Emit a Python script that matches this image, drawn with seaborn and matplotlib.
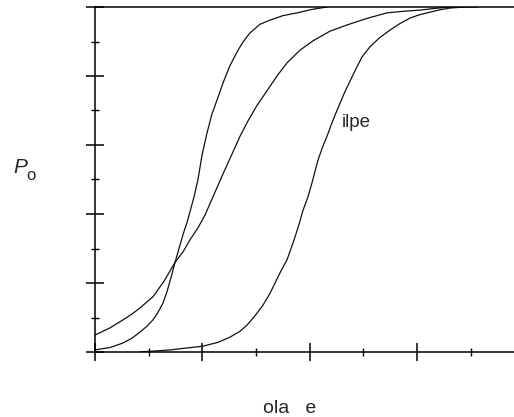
import numpy as np
import pandas as pd
import matplotlib
matplotlib.use("Agg")
import matplotlib.pyplot as plt
import seaborn as sns
from matplotlib.ticker import MultipleLocator

# Curve A (steep, left)
xa = [0, 0.14, 0.26, 0.345, 0.42, 0.485, 0.54, 0.587, 0.634, 0.671, 0.708, 0.746, 0.783, 0.82, 0.857,
      0.885, 0.923, 0.96, 0.997, 1.044, 1.09, 1.137, 1.193, 1.258, 1.333, 1.389, 1.445, 1.538, 1.631,
      1.752, 1.883, 2.022, 2.162]
ya = [0.006, 0.013, 0.026, 0.040, 0.058, 0.075, 0.093, 0.115, 0.142, 0.175, 0.215, 0.26, 0.30, 0.34, 0.375,
      0.406, 0.45, 0.50, 0.57, 0.635, 0.69, 0.73, 0.78, 0.83, 0.875, 0.903, 0.925, 0.950, 0.962,
      0.975, 0.983, 0.993, 1.0]
# Curve B (shallow, middle)
xb = [0, 0.14, 0.26, 0.345, 0.42, 0.54, 0.643, 0.746, 0.82, 0.885, 0.96, 1.025, 1.10, 1.184, 1.286, 1.351,
      1.426, 1.51, 1.603, 1.696, 1.789, 1.911, 2.032, 2.19, 2.349, 2.535, 2.721, 2.889, 3.029, 3.169,
      3.308, 3.448]
yb = [0.049, 0.07, 0.093, 0.11, 0.128, 0.16, 0.205, 0.26, 0.29, 0.325, 0.36, 0.397, 0.45, 0.51, 0.58, 0.625,
      0.67, 0.715, 0.757, 0.80, 0.838, 0.875, 0.902, 0.93, 0.948, 0.967, 0.983, 0.988, 0.991, 0.996,
      1.0, 1.0]
# Curve C (right, "ilpe")
xc = [0.42, 0.699, 1.007, 1.146, 1.258, 1.351, 1.417, 1.491, 1.566, 1.631, 1.678, 1.733, 1.789, 1.827,
      1.864, 1.901, 1.938, 1.985, 2.022, 2.078, 2.116, 2.162, 2.209, 2.255, 2.33, 2.423, 2.488, 2.563,
      2.656, 2.749, 2.842, 2.936, 3.029, 3.122, 3.215, 3.308, 3.448, 3.569]
yc = [0.0, 0.006, 0.017, 0.028, 0.043, 0.060, 0.078, 0.105, 0.136, 0.17, 0.20, 0.235, 0.267, 0.30,
      0.333, 0.37, 0.41, 0.45, 0.49, 0.556, 0.59, 0.625, 0.665, 0.70, 0.755, 0.815, 0.855, 0.885,
      0.912, 0.933, 0.952, 0.968, 0.978, 0.985, 0.992, 0.997, 1.0, 1.0]

curve_label = "ilpe"
x_label = "ola   e"

df = pd.concat([
    pd.DataFrame({"x": xa, "y": ya, "curve": "A"}),
    pd.DataFrame({"x": xb, "y": yb, "curve": "B"}),
    pd.DataFrame({"x": xc, "y": yc, "curve": "C"}),
], ignore_index=True)

sns.set_style("white")
plt.rcParams["font.family"] = ["Liberation Sans", "DejaVu Sans"]

W, H = 514, 417
fig = plt.figure(figsize=(W / 100, H / 100), dpi=100)
ax = fig.add_axes([95 / W, (H - 352) / H, (W - 95) / W, 345 / H])

sns.lineplot(data=df, x="x", y="y", hue="curve", palette=["#111111"] * 3,
             sort=False, estimator=None, linewidth=0.9, legend=False, ax=ax)

ax.set_xlim(0, (W - 95) / 107.3)
ax.set_ylim(0, 1)
ax.xaxis.set_major_locator(MultipleLocator(1))
ax.xaxis.set_minor_locator(MultipleLocator(0.5))
ax.yaxis.set_major_locator(MultipleLocator(0.2))
ax.yaxis.set_minor_locator(MultipleLocator(0.1))
ax.tick_params(which="major", direction="inout", length=13, width=1.1, color="black",
               labelbottom=False, labelleft=False, bottom=True, left=True)
ax.tick_params(which="minor", direction="inout", length=6, width=1.0, color="black",
               bottom=True, left=True)
ax.set_xlabel("")
ax.set_ylabel("")
for s in ["left", "bottom", "top"]:
    ax.spines[s].set_visible(True)
    ax.spines[s].set_color("black")
    ax.spines[s].set_linewidth(1.1)
ax.spines["right"].set_visible(False)

ax.text((342 - 95) / 107.3, (352 - 127) / 345, curve_label, fontsize=13.5, va="baseline", ha="left")

fig.text(13 / W, (H - 173) / H, "P", fontsize=15, fontstyle="italic", va="baseline", ha="left")
fig.text(26 / W, (H - 180) / H, "o", fontsize=12, va="baseline", ha="left")
fig.text(263 / W, (H - 413) / H, x_label, fontsize=14, va="baseline", ha="left")

fig.savefig("out.png", dpi=100)
